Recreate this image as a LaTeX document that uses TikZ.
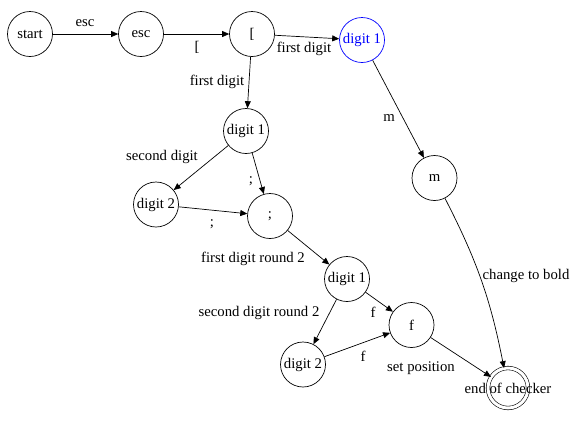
\documentclass[tikz,border=0pt]{standalone}
\usepackage{fontspec}
\setmainfont{Liberation Serif}
\usetikzlibrary{arrows.meta}
\begin{document}
\begin{tikzpicture}[x=1bp,y=-1bp,
  every node/.style={font=\fontsize{14.8}{16}\selectfont},
  state/.style={circle,draw,line width=0.7pt,minimum size=45bp,inner sep=0pt},
  accept/.style={circle,draw,line width=0.6pt,double,double distance=3bp,minimum size=40bp,inner sep=0pt},
  lbl/.style={inner sep=0pt},
  tr/.style={line width=0.7pt,-{Triangle[length=7bp,width=6bp]}}]
\useasboundingbox (0,0) rectangle (578,430);

% states
\node[state] (start) at (30,34) {start};
\node[state] (esc) at (141,34) {esc};
\node[state] (br) at (252,34) {[};
\node[state,draw=blue,text=blue] (d1top) at (362,40) {digit 1};
\node[state] (m) at (434.5,178) {m};
\node[state] (d1) at (246,131) {digit 1};
\node[state] (d2) at (156,204.5) {digit 2};
\node[state] (semi) at (270,216) {;};
\node[state] (d1b) at (347,279) {digit 1};
\node[state] (f) at (411.5,325) {f};
\node[state] (d2b) at (303,364.5) {digit 2};
\node[accept,label={center:end of checker}] (end) at (508,388) {};

% transitions
\draw[tr] (start) -- (esc);
\draw[tr] (esc) -- (br);
\draw[tr] (br) -- (d1top);
\draw[tr] (br) -- (d1);
\draw[tr] (d1top) -- (m);
\draw[tr] (m) to[bend left=8] (end);
\draw[tr] (d1) -- (d2);
\draw[tr] (d1) -- (semi);
\draw[tr] (d2) -- (semi);
\draw[tr] (semi) -- (d1b);
\draw[tr] (d1b) -- (d2b);
\draw[tr] (d1b) -- (f);
\draw[tr] (d2b) -- (f);
\draw[tr] (f) -- (end);

% transition labels
\node[lbl] (l-esc) at (85,23) {esc};
\node[lbl] (l-br) at (197,47) {[};
\node[lbl] (l-fd1) at (304,49) {first digit};
\node[lbl] (l-fd2) at (217,82) {first digit};
\node[lbl] (l-m) at (389,118) {m};
\node[lbl] (l-sd) at (162,157) {second digit};
\node[lbl] (l-semi1) at (251,181) {;};
\node[lbl] (l-semi2) at (212,224) {;};
\node[lbl] (l-fdr2) at (253,259) {first digit round 2};
\node[lbl] (l-sdr2) at (259,313) {second digit round 2};
\node[lbl] (l-f1) at (373,312) {f};
\node[lbl] (l-f2) at (363,356) {f};
\node[lbl] (l-set) at (421,368) {set position};
\node[lbl] (l-bold) at (526,276) {change to bold};
\end{tikzpicture}
\end{document}
